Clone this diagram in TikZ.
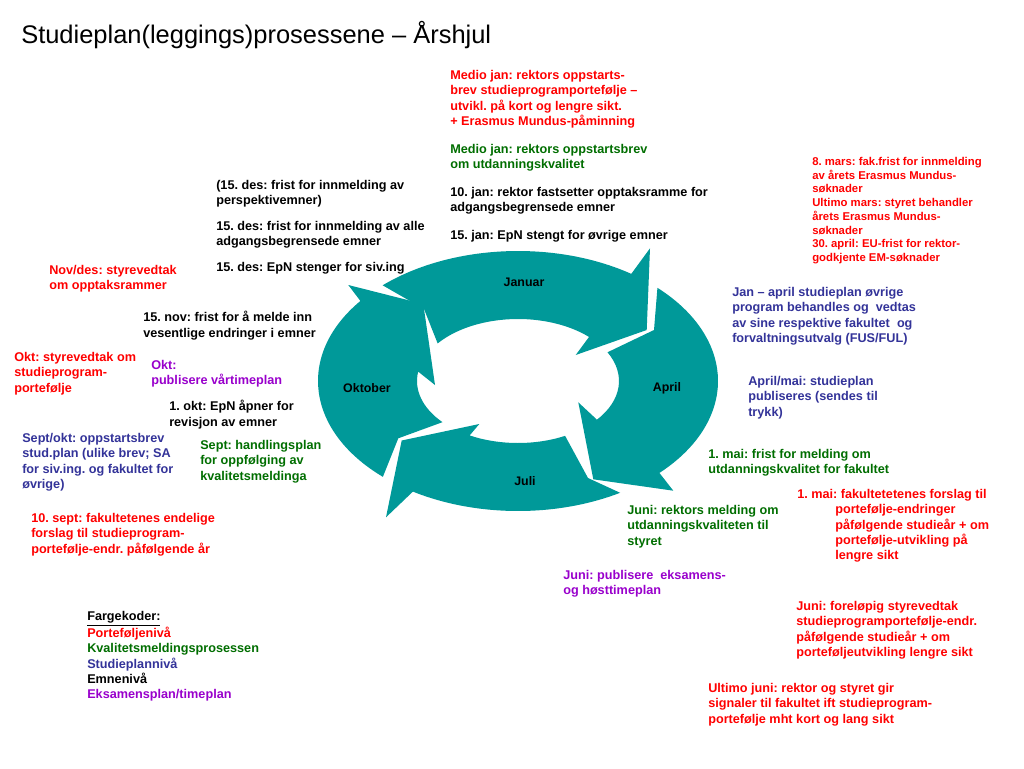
\documentclass[tikz,border=0pt]{standalone}
\usepackage{fontspec}
\setmainfont{Liberation Sans}
\usetikzlibrary{calc}
\frenchspacing

\definecolor{portred}{RGB}{255,0,0}
\definecolor{kvalgreen}{RGB}{0,110,0}
\definecolor{planblue}{RGB}{51,51,153}
\definecolor{eksviolet}{RGB}{153,0,204}
\definecolor{wheelteal}{RGB}{0,153,153}

\tikzset{
	txt/.style={anchor=north west, inner sep=0pt, align=left, font=\fontsize{9.5}{11.5}\selectfont\bfseries},
	smalltxt/.style={txt, font=\fontsize{8.5}{10.3}\selectfont\bfseries},
	month/.style={inner sep=0pt, font=\fontsize{9.3}{11}\selectfont\bfseries},
	wheel/.style={fill=wheelteal},
}

\begin{document}
\begin{tikzpicture}[x=0.75pt,y=-0.75pt]
	\useasboundingbox (0,0) rectangle (1024,768);
	\fill[white] (0,0) rectangle (1024,768);
	\coordinate (c) at (518,381);

	% aarshjulet
	\fill[wheel] ($(c)+(-132.6:200 and 130)$) arc[start angle=-132.6, end angle=-55.5, x radius=200, y radius=130]
		-- (650,248.3) -- (646.7,330) -- (575.7,355)
		-- ($(c)+(-45.3:101 and 62)$) arc[start angle=-45.3, end angle=-142.7, x radius=101, y radius=62]
		-- (424,309) -- cycle;
	\fill[wheel] ($(c)+(-45.8:200 and 130)$) arc[start angle=-45.8, end angle=45, x radius=200, y radius=130]
		-- (673.3,490.7) -- (593.3,479.3) -- (578.3,402.3)
		-- ($(c)+(38.6:101 and 62)$) arc[start angle=38.6, end angle=-27.6, x radius=101, y radius=62]
		-- (654,330) -- cycle;
	\fill[wheel] ($(c)+(59.3:200 and 130)$) arc[start angle=59.3, end angle=121.7, x radius=200, y radius=130]
		-- (386,517.3) -- (401.7,440.5) -- (479.3,424)
		-- ($(c)+(118.6:101 and 62)$) arc[start angle=118.6, end angle=62.2, x radius=101, y radius=62]
		-- (588,478) -- cycle;
	\fill[wheel] ($(c)+(132.5:200 and 130)$) arc[start angle=132.5, end angle=218, x radius=200, y radius=130]
		-- (348.3,285) -- (423.3,304) -- (435,385)
		-- ($(c)+(188.7:101 and 62)$) arc[start angle=188.7, end angle=138.4, x radius=101, y radius=62]
		-- (398.3,438.3) -- cycle;

	\node[month] (januar) at (524,282) {Januar};
	\node[month] (april) at (667,388) {April};
	\node[month] (juli) at (525,481) {Juli};
	\node[month] (oktober) at (367,388) {Oktober};

	\node[anchor=base west, inner sep=0pt, font=\fontsize{19.1}{23}\selectfont] (title) at (21,43) {Studieplan(leggings)prosessene – Årshjul};

	% januar - april
	\node[txt, portred] (medio) at (450,70) {Medio jan: rektors oppstarts-\\brev studieprogramportefølje –\\utvikl. på kort og lengre sikt.\\+ Erasmus Mundus-påminning};
	\node[txt, kvalgreen] (mediokval) at (450,144) {Medio jan: rektors oppstartsbrev\\om utdanningskvalitet};
	\node[txt] (jan10) at (450,187) {10. jan: rektor fastsetter opptaksramme for\\adgangsbegrensede emner};
	\node[txt] (jan15) at (450,230) {15. jan: EpN stengt for øvrige emner};
	\node[smalltxt, portred] (mars) at (812,157) {8. mars: fak.frist for innmelding\\av årets Erasmus Mundus-\\søknader\\Ultimo mars: styret behandler\\årets Erasmus Mundus-\\søknader\\30. april: EU-frist for rektor-\\godkjente EM-søknader};
	\node[txt, planblue] (janapr) at (732,287) {Jan – april studieplan øvrige\\program behandles og\ \ vedtas\\av sine respektive fakultet\ \ og\\forvaltningsutvalg (FUS/FUL)};
	\node[txt, planblue] (aprmai) at (748,376) {April/mai: studieplan\\publiseres (sendes til\\trykk)};

	% mai - juli
	\node[txt, kvalgreen] (mai1) at (708,449) {1. mai: frist for melding om\\utdanningskvalitet for fakultet};
	\node[txt, portred] (mai1port) at (797,489) {1. mai: fakultetetenes forslag til\\\hspace*{28.5pt}portefølje-endringer\\\hspace*{28.5pt}påfølgende studieår + om\\\hspace*{28.5pt}portefølje-utvikling på\\\hspace*{28.5pt}lengre sikt};
	\node[txt, kvalgreen] (junirektor) at (627,505) {Juni: rektors melding om\\utdanningskvaliteten til\\styret};
	\node[txt, eksviolet] (junitime) at (563,570) {Juni: publisere\ \ eksamens-\\og høsttimeplan};
	\node[txt, portred] (junistyre) at (796,601) {Juni: foreløpig styrevedtak\\studieprogramportefølje-endr.\\påfølgende studieår + om\\porteføljeutvikling lengre sikt};
	\node[txt, portred] (ultimo) at (708,683) {Ultimo juni: rektor og styret gir\\signaler til fakultet ift studieprogram-\\portefølje mht kort og lang sikt};

	% sept - des
	\node[txt] (des15a) at (216,180) {(15. des: frist for innmelding av\\perspektivemner)};
	\node[txt] (des15b) at (216,221) {15. des: frist for innmelding av alle\\adgangsbegrensede emner};
	\node[txt] (des15c) at (216,262) {15. des: EpN stenger for siv.ing};
	\node[txt, portred] (novdes) at (49,265) {Nov/des: styrevedtak\\om opptaksrammer};
	\node[txt] (nov15) at (143,311) {15. nov: frist for å melde inn\\vesentlige endringer i emner};
	\node[txt, portred] (oktstyre) at (14,352) {Okt: styrevedtak om\\studieprogram-\\portefølje};
	\node[txt, eksviolet] (okttime) at (151,360) {Okt:\\publisere vårtimeplan};
	\node[txt] (okt1) at (169,400) {1. okt: EpN åpner for\\revisjon av emner};
	\node[txt, planblue] (septokt) at (22,433) {Sept/okt: oppstartsbrev\\stud.plan (ulike brev; SA\\for siv.ing. og fakultet for\\øvrige)};
	\node[txt, kvalgreen] (sept) at (200,440) {Sept: handlingsplan\\for oppfølging av\\kvalitetsmeldinga};
	\node[txt, portred] (sept10) at (31,513) {10. sept: fakultetenes endelige\\forslag til studieprogram-\\portefølje-endr. påfølgende år};

	% fargekoder
	\node[txt] (farge) at (87,611) {\underline{Fargekoder:}\\\textcolor{portred}{Porteføljenivå}\\\textcolor{kvalgreen}{Kvalitetsmeldingsprosessen}\\\textcolor{planblue}{Studieplannivå}\\Emnenivå\\\textcolor{eksviolet}{Eksamensplan/timeplan}};
\end{tikzpicture}
\end{document}
